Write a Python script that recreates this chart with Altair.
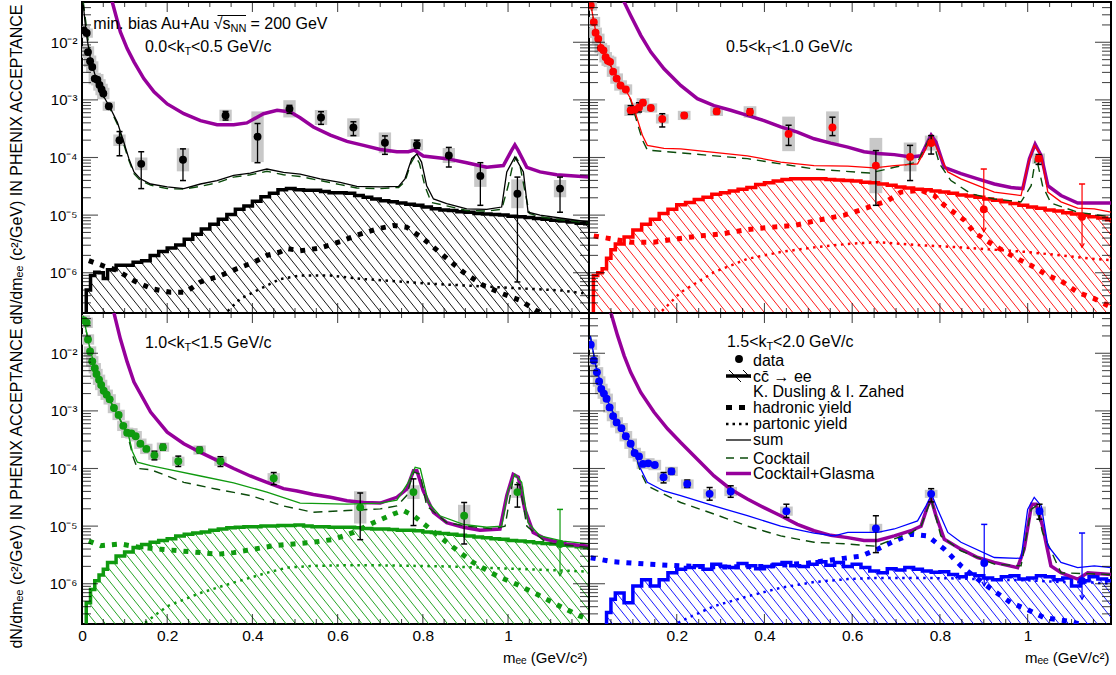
import math
from bisect import bisect_right
import altair as alt
import pandas as pd

FONT = "Liberation Sans"
YMIN, YMAX = 2e-7, 5e-2
XMAX = 1.19
H = 311
WL, WR = 507, 522
PURPLE = "#96009b"
CKT = "#0b4b0b"
SYSC = "#c8c8c8"
COL = {"p1": "#000000", "p2": "#ff0000", "p3": "#0f9a0f", "p4": "#0000ff"}

# ---------------- data (all y values are log10 of dN/dm_ee) ----------------
HX = [0.0, 0.01, 0.02, 0.03, 0.04, 0.05, 0.06,
      0.08, 0.10, 0.12, 0.14, 0.16, 0.18,
      0.20, 0.22, 0.24, 0.26, 0.28, 0.30, 0.32, 0.34, 0.36, 0.38,
      0.40, 0.42, 0.44, 0.46, 0.48, 0.50, 0.52, 0.54, 0.56, 0.58,
      0.60, 0.62, 0.64, 0.66, 0.68, 0.70, 0.72, 0.74, 0.76, 0.78,
      0.80, 0.82, 0.84, 0.86, 0.88, 0.90, 0.92, 0.94, 0.96, 0.98,
      1.00, 1.02, 1.04, 1.06, 1.08, 1.10, 1.12, 1.14, 1.16, 1.18]

# c cbar -> ee histograms
P1_HIST = [-7.5, -6.3, -6.05, -5.99, -6.0, -6.1, -5.95,
           -5.87, -5.87, -5.82, -5.79, -5.70, -5.63,
           -5.57, -5.52, -5.42, -5.33, -5.24, -5.16, -5.07, -4.99, -4.90, -4.84,
           -4.76, -4.68, -4.62, -4.56, -4.54, -4.56, -4.57, -4.57, -4.59, -4.61,
           -4.61, -4.62, -4.66, -4.69, -4.72, -4.75, -4.77, -4.79, -4.81, -4.83,
           -4.86, -4.89, -4.91, -4.92, -4.94, -4.95, -4.97, -4.98, -4.99, -5.00,
           -5.02, -5.03, -5.04, -5.06, -5.07, -5.09, -5.10, -5.12, -5.14, -5.15]
P2_HIST = [-7.5, -6.05, -6.0, -5.93, -5.75, -5.6, -5.5,
           -5.38, -5.26, -5.16, -5.07, -4.97, -4.90,
           -4.82, -4.78, -4.73, -4.69, -4.64, -4.61, -4.58, -4.55, -4.52, -4.47,
           -4.44, -4.41, -4.38, -4.37, -4.37, -4.37, -4.37, -4.38, -4.39, -4.40,
           -4.41, -4.43, -4.44, -4.46, -4.48, -4.51, -4.53, -4.55, -4.56, -4.58,
           -4.60, -4.62, -4.65, -4.67, -4.69, -4.72, -4.74, -4.77, -4.80, -4.83,
           -4.86, -4.88, -4.91, -4.93, -4.96, -4.98, -5.00, -5.03, -5.05, -5.08]
P3_HIST = [-7.5, -6.33, -6.1, -5.95, -5.85, -5.75, -5.63,
           -5.52, -5.45, -5.37, -5.32, -5.28, -5.25,
           -5.22, -5.17, -5.14, -5.12, -5.10, -5.07, -5.05, -5.03, -5.02, -5.01,
           -5.01, -5.00, -5.00, -4.99, -4.99, -4.98, -5.00, -5.01, -5.01, -5.02,
           -5.02, -5.02, -5.03, -5.04, -5.05, -5.05, -5.06, -5.07, -5.07, -5.08,
           -5.10, -5.11, -5.13, -5.14, -5.16, -5.17, -5.19, -5.20, -5.22, -5.23,
           -5.25, -5.26, -5.27, -5.29, -5.30, -5.31, -5.33, -5.34, -5.36, -5.37]
P4_HIST = [-7.5, -7.5, -7.5, -7.5, -6.5, -6.27, -6.16,
           -6.33, -6.04, -5.93, -6.04, -5.93, -5.81,
           -5.75, -5.72, -5.69, -5.75, -5.66, -5.70, -5.72, -5.65, -5.69, -5.74,
           -5.70, -5.66, -5.63, -5.69, -5.70, -5.66, -5.62, -5.68, -5.63, -5.70,
           -5.66, -5.72, -5.78, -5.81, -5.74, -5.76, -5.72, -5.75, -5.78, -5.80,
           -5.79, -5.84, -5.88, -5.83, -5.86, -5.90, -5.93, -5.88, -5.86, -5.92,
           -5.90, -5.86, -5.88, -5.93, -5.90, -6.04, -5.95, -5.88, -5.92, -5.95]

# hadronic yield (x, log10 y)
P1_HAD = [(0.016, -5.79), (0.05, -5.88), (0.083, -5.96), (0.122, -6.14), (0.165, -6.28), (0.208, -6.34),
          (0.243, -6.34), (0.278, -6.16), (0.325, -6.05), (0.364, -5.93), (0.403, -5.82), (0.434, -5.70),
          (0.465, -5.64), (0.481, -5.58), (0.512, -5.62), (0.559, -5.57), (0.606, -5.46), (0.645, -5.35),
          (0.692, -5.24), (0.731, -5.18), (0.762, -5.21), (0.801, -5.41), (0.848, -5.70), (0.895, -5.99),
          (0.942, -6.22), (0.989, -6.37), (1.028, -6.48), (1.067, -6.66), (1.11, -6.80)]
P2_HAD = [(0.011, -5.36), (0.095, -5.47), (0.148, -5.47), (0.202, -5.41), (0.255, -5.36), (0.308, -5.32),
          (0.361, -5.25), (0.415, -5.21), (0.468, -5.18), (0.521, -5.09), (0.582, -5.00), (0.627, -4.89),
          (0.681, -4.75), (0.711, -4.60), (0.757, -4.57), (0.787, -4.66), (0.810, -4.83), (0.856, -5.09),
          (0.878, -5.30), (0.924, -5.53), (0.970, -5.73), (1.008, -5.875), (1.046, -6.05), (1.076, -6.14),
          (1.114, -6.34), (1.152, -6.45), (1.19, -6.60)]
P3_HAD = [(0.016, -5.26), (0.044, -5.34), (0.09, -5.31), (0.137, -5.37), (0.184, -5.40), (0.231, -5.43),
          (0.278, -5.46), (0.317, -5.49), (0.356, -5.46), (0.403, -5.40), (0.45, -5.34), (0.497, -5.31),
          (0.543, -5.28), (0.59, -5.23), (0.637, -5.11), (0.684, -4.94), (0.731, -4.79), (0.754, -4.73),
          (0.778, -4.82), (0.809, -5.00), (0.856, -5.28), (0.918, -5.63), (0.973, -5.86), (1.02, -6.01),
          (1.067, -6.18), (1.114, -6.36), (1.168, -6.56), (1.19, -6.62)]
P4_HAD = [(0.004, -5.55), (0.057, -5.62), (0.133, -5.66), (0.209, -5.69), (0.30, -5.71), (0.40, -5.70),
          (0.50, -5.64), (0.58, -5.56), (0.62, -5.52), (0.658, -5.40), (0.696, -5.26), (0.734, -5.14),
          (0.772, -5.17), (0.810, -5.40), (0.848, -5.69), (0.886, -5.92), (0.924, -6.13), (0.962, -6.33),
          (1.0, -6.45), (1.038, -6.59), (1.091, -6.65), (1.15, -6.75)]

# partonic yield
P1_PAR = [(0.33, -6.75), (0.372, -6.45), (0.418, -6.28), (0.465, -6.11), (0.512, -6.05), (0.583, -6.05),
          (0.661, -6.11), (0.739, -6.15), (0.817, -6.19), (0.895, -6.22), (0.973, -6.25), (1.051, -6.28),
          (1.129, -6.31), (1.19, -6.37)]
P2_PAR = [(0.155, -6.75), (0.209, -6.34), (0.285, -5.99), (0.361, -5.76), (0.437, -5.64), (0.513, -5.56),
          (0.59, -5.50), (0.658, -5.47), (0.772, -5.53), (0.848, -5.56), (0.924, -5.60), (1.0, -5.64),
          (1.076, -5.70), (1.152, -5.76), (1.19, -5.78)]
P3_PAR = [(0.135, -6.75), (0.2, -6.39), (0.278, -6.16), (0.356, -5.98), (0.434, -5.81), (0.481, -5.72),
          (0.543, -5.69), (0.622, -5.68), (0.70, -5.68), (0.778, -5.69), (0.856, -5.70), (0.934, -5.72),
          (1.012, -5.74), (1.09, -5.76), (1.19, -5.79)]
P4_PAR = [(0.19, -6.75), (0.209, -6.65), (0.285, -6.39), (0.361, -6.22), (0.437, -6.07), (0.513, -5.97),
          (0.59, -5.92), (0.654, -5.90), (0.772, -5.90), (0.848, -5.91), (0.924, -5.93), (1.0, -5.94),
          (1.076, -5.97), (1.15, -5.98), (1.19, -6.00)]

# sum (Dusling & Zahed)
P1_SUM = [(0.003, -1.35), (0.01, -1.85), (0.02, -2.3), (0.03, -2.55), (0.044, -2.85), (0.067, -3.15),
          (0.083, -3.39), (0.098, -3.73), (0.11, -4.02), (0.122, -4.25), (0.137, -4.37), (0.161, -4.46),
          (0.2, -4.51), (0.239, -4.54), (0.278, -4.46), (0.317, -4.40), (0.356, -4.31), (0.395, -4.27),
          (0.434, -4.20), (0.473, -4.26), (0.512, -4.29), (0.559, -4.37), (0.606, -4.43), (0.645, -4.50),
          (0.70, -4.51), (0.743, -4.50), (0.758, -4.37), (0.774, -4.02), (0.786, -3.94), (0.797, -4.08),
          (0.809, -4.49), (0.825, -4.72), (0.856, -4.80), (0.903, -4.89), (0.95, -4.90), (0.985, -4.86),
          (0.997, -4.25), (1.016, -3.99), (1.036, -4.25), (1.047, -4.95), (1.075, -5.00), (1.122, -5.05),
          (1.19, -5.12)]
P2_SUM = [(0.003, -1.3), (0.015, -1.8), (0.03, -2.1), (0.045, -2.35), (0.06, -2.55), (0.072, -2.72),
          (0.085, -2.85), (0.095, -2.98), (0.11, -3.33), (0.122, -3.62), (0.133, -3.79), (0.171, -3.84),
          (0.209, -3.85), (0.285, -3.91), (0.361, -3.97), (0.437, -4.08), (0.513, -4.14), (0.590, -4.15),
          (0.650, -4.18), (0.696, -4.14), (0.749, -4.11), (0.768, -3.85), (0.781, -3.62), (0.795, -3.88),
          (0.818, -4.25), (0.848, -4.37), (0.924, -4.60), (0.985, -4.66), (1.0, -4.14), (1.015, -3.79),
          (1.031, -3.97), (1.046, -4.60), (1.076, -4.77), (1.114, -4.88), (1.152, -4.89), (1.19, -4.95)]
P3_SUM = [(0.003, -1.35), (0.015, -1.8), (0.03, -2.25), (0.05, -2.6), (0.075, -2.95), (0.1, -3.3),
          (0.11, -3.45), (0.118, -3.7), (0.13, -3.89), (0.161, -3.95), (0.2, -4.01), (0.278, -4.13),
          (0.356, -4.25), (0.434, -4.41), (0.512, -4.60), (0.622, -4.62), (0.70, -4.60), (0.739, -4.55),
          (0.766, -4.24), (0.782, -3.98), (0.794, -4.00), (0.813, -4.59), (0.84, -4.82), (0.895, -4.97),
          (0.95, -5.02), (0.985, -5.00), (1.0, -4.39), (1.016, -4.10), (1.032, -4.24), (1.047, -4.94),
          (1.075, -5.17), (1.129, -5.26), (1.19, -5.31)]
P4_SUM = [(0.003, -1.7), (0.015, -2.2), (0.03, -2.62), (0.05, -2.95), (0.07, -3.28), (0.09, -3.5),
          (0.105, -3.72), (0.114, -3.95), (0.133, -4.24), (0.171, -4.39), (0.209, -4.47), (0.285, -4.65),
          (0.361, -4.82), (0.437, -5.00), (0.513, -5.12), (0.559, -5.17), (0.590, -5.11), (0.658, -5.11),
          (0.696, -5.05), (0.749, -4.91), (0.768, -4.65), (0.781, -4.45), (0.795, -4.71), (0.818, -5.11),
          (0.848, -5.28), (0.924, -5.545), (0.985, -5.56), (1.0, -4.71), (1.015, -4.50), (1.031, -4.65),
          (1.046, -5.34), (1.076, -5.63), (1.114, -5.72), (1.152, -5.69), (1.19, -5.72)]

# hadronic cocktail
P1_CKT = [(0.003, -1.3), (0.02, -2.3), (0.045, -2.87), (0.067, -3.17), (0.083, -3.42), (0.098, -3.77),
          (0.11, -4.05), (0.122, -4.28), (0.137, -4.40), (0.161, -4.48), (0.2, -4.54), (0.239, -4.55),
          (0.278, -4.50), (0.317, -4.44), (0.356, -4.34), (0.395, -4.30), (0.434, -4.24), (0.473, -4.30),
          (0.512, -4.33), (0.559, -4.40), (0.606, -4.47), (0.645, -4.53), (0.70, -4.54), (0.743, -4.52),
          (0.758, -4.42), (0.772, -4.10), (0.782, -3.97), (0.792, -4.10), (0.805, -4.50), (0.82, -4.78),
          (0.856, -4.84), (0.903, -4.92), (0.95, -4.93), (0.985, -4.90), (1.0, -4.50), (1.012, -4.10),
          (1.019, -4.00), (1.027, -4.10), (1.04, -4.60), (1.05, -4.97), (1.075, -5.03), (1.122, -5.08),
          (1.19, -5.14)]
P2_CKT = [(0.003, -1.3), (0.015, -1.8), (0.03, -2.1), (0.045, -2.35), (0.06, -2.55), (0.072, -2.72),
          (0.085, -2.87), (0.095, -3.0), (0.11, -3.4), (0.122, -3.7), (0.133, -3.87), (0.209, -3.92),
          (0.361, -4.02), (0.513, -4.20), (0.640, -4.27), (0.696, -4.17), (0.749, -4.08), (0.772, -3.73),
          (0.780, -3.61), (0.799, -4.11), (0.825, -4.40), (0.871, -4.63), (0.924, -4.72), (0.985, -4.77),
          (1.008, -4.49), (1.019, -3.97), (1.034, -4.49), (1.053, -4.79), (1.114, -4.95), (1.19, -5.03)]
P3_CKT = [(0.003, -1.35), (0.015, -1.8), (0.03, -2.25), (0.05, -2.6), (0.075, -2.95), (0.1, -3.3),
          (0.11, -3.5), (0.12, -3.8), (0.13, -4.0), (0.161, -4.02), (0.239, -4.24), (0.317, -4.36),
          (0.395, -4.47), (0.473, -4.65), (0.543, -4.76), (0.622, -4.73), (0.70, -4.70), (0.739, -4.65),
          (0.762, -4.47), (0.778, -4.06), (0.794, -4.10), (0.809, -4.65), (0.856, -4.94), (0.903, -5.00),
          (0.965, -5.05), (0.993, -5.00), (1.012, -4.18), (1.028, -4.30), (1.044, -5.00), (1.09, -5.29),
          (1.19, -5.37)]
P4_CKT = [(0.003, -1.7), (0.015, -2.2), (0.03, -2.62), (0.05, -2.95), (0.07, -3.28), (0.09, -3.5),
          (0.105, -3.75), (0.118, -4.07), (0.133, -4.30), (0.209, -4.59), (0.285, -4.79), (0.361, -5.00),
          (0.437, -5.17), (0.513, -5.28), (0.59, -5.31), (0.654, -5.35), (0.696, -5.22), (0.734, -5.12),
          (0.757, -5.00), (0.78, -4.53), (0.802, -5.17), (0.848, -5.43), (0.924, -5.66), (0.985, -5.69),
          (1.008, -4.71), (1.019, -4.65), (1.034, -5.11), (1.076, -5.81), (1.19, -5.84)]

# cocktail + glasma
P1_GLA = [(0.06, -1.0), (0.071, -1.30), (0.09, -1.82), (0.106, -2.11), (0.122, -2.34), (0.145, -2.63),
          (0.169, -2.86), (0.2, -3.07), (0.239, -3.24), (0.278, -3.36), (0.317, -3.43), (0.356, -3.43),
          (0.387, -3.40), (0.426, -3.24), (0.458, -3.18), (0.489, -3.21), (0.512, -3.31), (0.543, -3.47),
          (0.583, -3.61), (0.622, -3.72), (0.661, -3.79), (0.70, -3.86), (0.739, -3.90), (0.766, -3.90),
          (0.78, -3.87), (0.801, -3.975), (0.856, -4.02), (0.903, -4.09), (0.95, -4.17), (0.989, -4.14),
          (1.008, -3.88), (1.016, -3.78), (1.024, -3.88), (1.044, -4.17), (1.075, -4.25), (1.114, -4.30),
          (1.19, -4.34)]
P2_GLA = [(0.07, -1.0), (0.080, -1.30), (0.095, -1.535), (0.118, -1.88), (0.141, -2.17), (0.171, -2.46),
          (0.209, -2.75), (0.247, -2.98), (0.285, -3.10), (0.323, -3.18), (0.361, -3.27), (0.399, -3.36),
          (0.437, -3.47), (0.475, -3.56), (0.513, -3.675), (0.551, -3.75), (0.590, -3.82), (0.627, -3.90),
          (0.658, -3.93), (0.696, -3.95), (0.734, -3.99), (0.757, -3.97), (0.772, -3.73), (0.780, -3.61),
          (0.791, -3.73), (0.810, -4.17), (0.848, -4.28), (0.886, -4.37), (0.924, -4.46), (0.962, -4.52),
          (0.989, -4.54), (1.004, -4.02), (1.017, -3.77), (1.031, -3.97), (1.046, -4.49), (1.076, -4.66),
          (1.114, -4.79), (1.19, -4.79)]
P3_GLA = [(0.065, -1.0), (0.075, -1.30), (0.090, -1.75), (0.106, -2.15), (0.122, -2.50), (0.161, -3.02),
          (0.20, -3.37), (0.239, -3.57), (0.278, -3.72), (0.317, -3.86), (0.356, -4.00), (0.395, -4.13),
          (0.434, -4.24), (0.473, -4.35), (0.505, -4.39), (0.543, -4.45), (0.583, -4.50), (0.622, -4.56),
          (0.661, -4.59), (0.70, -4.60), (0.739, -4.50), (0.762, -4.36), (0.778, -4.04), (0.786, -4.04),
          (0.801, -4.39), (0.825, -4.76), (0.856, -4.94), (0.895, -5.02), (0.934, -5.07), (0.981, -5.05),
          (0.997, -4.47), (1.012, -4.10), (1.024, -4.15), (1.039, -4.70), (1.059, -5.11), (1.09, -5.23),
          (1.137, -5.31), (1.19, -5.35)]
P4_GLA = [(0.045, -1.0), (0.05, -1.30), (0.065, -1.69), (0.080, -2.04), (0.095, -2.33), (0.118, -2.68),
          (0.148, -3.02), (0.179, -3.31), (0.209, -3.55), (0.247, -3.84), (0.285, -4.13), (0.323, -4.36),
          (0.361, -4.53), (0.399, -4.68), (0.437, -4.82), (0.475, -4.97), (0.513, -5.08), (0.551, -5.16),
          (0.590, -5.20), (0.627, -5.25), (0.658, -5.25), (0.696, -5.17), (0.734, -5.08), (0.757, -5.00),
          (0.772, -4.65), (0.780, -4.53), (0.791, -4.82), (0.810, -5.23), (0.848, -5.40), (0.886, -5.545),
          (0.924, -5.63), (0.977, -5.72), (0.992, -5.40), (1.009, -4.62), (1.019, -4.62), (1.034, -5.00),
          (1.053, -5.69), (1.076, -5.81), (1.114, -5.92), (1.137, -5.81), (1.19, -5.84)]

# data points: x, log10 y, stat err down/up (decades), syst half-height (decades)
P1_X = [0.0045, 0.011, 0.014, 0.019, 0.024, 0.030, 0.036, 0.041, 0.046, 0.050, 0.063, 0.088, 0.139,
        0.237, 0.337, 0.412, 0.487, 0.561, 0.637, 0.711, 0.786, 0.861, 0.935, 1.022, 1.122]
P1_Y = [-1.795, -1.84, -2.17, -2.33, -2.43, -2.63, -2.65, -2.74, -2.82, -2.89, -3.11, -3.70, -4.11,
        -4.04, -3.27, -3.64, -3.155, -3.305, -3.48, -3.745, -3.78, -3.965, -4.32, -4.63, -4.54]
P1_EDN = [0.03] * 10 + [0.04, 0.27, 0.43, 0.36, 0.08, 0.45, 0.08, 0.12, 0.14, 0.20, 0.06, 0.20, 0.51, 1.53, 0.41]
P1_EUP = [0.03] * 10 + [0.04, 0.15, 0.21, 0.19, 0.07, 0.23, 0.06, 0.10, 0.10, 0.12, 0.08, 0.14, 0.23, 0.29, 0.20]
P1_SYS = [0.08, 0.08] + [0.10] * 8 + [0.08, 0.10, 0.11, 0.20, 0.10, 0.44, 0.15, 0.13, 0.16, 0.18, 0.10, 0.13, 0.19, 0.25, 0.15]

P2_X = [0.004, 0.011, 0.015, 0.021, 0.027, 0.033, 0.038, 0.043, 0.048, 0.055, 0.063, 0.072, 0.084,
        0.095, 0.104, 0.114, 0.123, 0.141, 0.167, 0.217, 0.291, 0.367, 0.455, 0.555, 0.654, 0.732,
        0.780, 1.025]
P2_Y = [-1.36, -1.65, -1.835, -1.94, -2.10, -2.14, -2.26, -2.32, -2.34, -2.51, -2.63, -2.75, -2.82,
        -3.18, -3.17, -3.13, -3.05, -3.14, -3.33, -3.27, -3.20, -3.21, -3.59, -3.48, -4.14, -3.99,
        -3.75, -4.02]
P2_EDN = [0.03] * 13 + [0.07, 0.05, 0.08, 0.04, 0.04, 0.14, 0.04, 0.04, 0.05, 0.20, 0.14, 0.69, 0.41, 0.19, 0.10]
P2_EUP = [0.03] * 13 + [0.08, 0.05, 0.08, 0.04, 0.04, 0.09, 0.04, 0.04, 0.05, 0.15, 0.18, 0.26, 0.20, 0.13, 0.07]
P2_SYS = [0.09] * 13 + [0.10, 0.08, 0.08, 0.08, 0.08, 0.08, 0.08, 0.08, 0.10, 0.30, 0.28, 0.48, 0.25, 0.13, 0.09]

P3_X = [0.0045, 0.011, 0.014, 0.019, 0.024, 0.030, 0.034, 0.040, 0.045, 0.051, 0.058, 0.065, 0.075,
        0.086, 0.097, 0.106, 0.116, 0.126, 0.137, 0.151, 0.170, 0.19, 0.226, 0.276, 0.325, 0.45,
        0.653, 0.778, 0.897, 1.022]
P3_Y = [-1.43, -1.47, -1.76, -1.97, -2.14, -2.26, -2.36, -2.46, -2.55, -2.65, -2.72, -2.80, -2.95,
        -3.07, -3.26, -3.38, -3.39, -3.44, -3.57, -3.66, -3.77, -3.63, -3.875, -3.68, -3.875, -4.17,
        -4.675, -4.41, -4.82, -4.41]
P3_EDN = [0.03] * 20 + [0.08, 0.05, 0.09, 0.05, 0.09, 0.11, 0.56, 0.58, 0.49, 0.26]
P3_EUP = [0.03] * 20 + [0.07, 0.05, 0.09, 0.05, 0.08, 0.10, 0.25, 0.23, 0.23, 0.13]
P3_SYS = [0.09] * 20 + [0.08, 0.08, 0.08, 0.08, 0.08, 0.09, 0.28, 0.12, 0.19, 0.10]

P4_X = [0.004, 0.011, 0.018, 0.023, 0.028, 0.034, 0.040, 0.047, 0.055, 0.063, 0.074, 0.084, 0.095,
        0.104, 0.114, 0.123, 0.135, 0.150, 0.170, 0.188, 0.224, 0.275, 0.323, 0.450, 0.654, 0.780, 1.027]
P4_Y = [-1.85, -2.125, -2.33, -2.49, -2.62, -2.70, -2.79, -2.94, -3.09, -3.20, -3.30, -3.44, -3.57,
        -3.73, -3.79, -3.92, -3.91, -3.94, -4.15, -4.05, -4.27, -4.44, -4.40, -4.74, -5.04, -4.44, -4.74]
P4_EDN = [0.03] * 18 + [0.10, 0.05, 0.06, 0.11, 0.10, 0.11, 0.42, 0.14, 0.14]
P4_EUP = [0.03] * 18 + [0.08, 0.05, 0.07, 0.11, 0.10, 0.12, 0.22, 0.09, 0.12]
P4_SYS = [0.09] * 18 + [0.08, 0.08, 0.08, 0.08, 0.08, 0.08, 0.08, 0.07, 0.08]

# upper-limit style points: x, log10 y, top of bar, arrow tip
P1_UL = []
P2_UL = [(0.900, -4.90, -4.20, -5.29), (1.124, -5.03, -4.46, -5.56)]
P3_UL = [(1.122, -5.31, -4.71, -5.86)]
P4_UL = [(0.901, -5.64, -4.97, -6.04), (1.124, -5.95, -5.12, -6.27)]

Y_LABEL_VALUES = [1e-6, 1e-5, 1e-4, 1e-3, 1e-2]
X_LABEL_VALUES = [0, 0.2, 0.4, 0.6, 0.8, 1.0]

# ---------------- helpers ----------------
LY0, LY1 = math.log10(YMIN), math.log10(YMAX)
DUMMY = pd.DataFrame({"k": [0]})


def curve_df(pairs):
    return pd.DataFrame({"x": [p[0] for p in pairs], "y": [10 ** p[1] for p in pairs]})


def hist_df(hy):
    xs = list(HX) + [XMAX]
    ys = list(hy) + [hy[-1]]
    return pd.DataFrame({"x": xs, "y": [10 ** v for v in ys]})


def hatch_df(hy, W):
    hpx = [(v - LY0) / (LY1 - LY0) * H for v in hy]

    def ch(px):
        i = bisect_right(HX, px / W * XMAX) - 1
        return hpx[max(0, min(i, len(hpx) - 1))]

    slope, gap, step = 1.25, 9.5, 0.5
    segs = []
    xb = gap / 2
    while xb < W + H / slope:
        t, start, prev = 0.0, None, None
        while True:
            px, h = xb - t, slope * t
            if px < 0 or h > H:
                break
            inside = px <= W and h <= ch(px)
            if inside and start is None:
                start = (px, h)
            elif not inside and start is not None:
                segs.append((start, prev))
                start = None
            prev = (px, h)
            t += step
        if start is not None:
            segs.append((start, prev))
        xb += gap
    rows = []
    for (p0, h0), (p1, h1) in segs:
        if h1 - h0 < 0.5:
            continue
        rows.append({"x": p0 / W * XMAX, "y": 10 ** (LY0 + h0 / H * (LY1 - LY0)),
                     "x2": p1 / W * XMAX, "y2": 10 ** (LY0 + h1 / H * (LY1 - LY0))})
    return pd.DataFrame(rows)


def points_df(X_, Y_, EDN, EUP, SYS):
    return pd.DataFrame({
        "x": X_, "y": [10 ** v for v in Y_],
        "el": [10 ** (v - d) for v, d in zip(Y_, EDN)],
        "eh": [10 ** (v + u) for v, u in zip(Y_, EUP)],
        "sl": [10 ** (v - s) for v, s in zip(Y_, SYS)],
        "sh": [10 ** (v + s) for v, s in zip(Y_, SYS)],
        "xl": [x - 0.0145 for x in X_], "xr": [x + 0.0145 for x in X_],
        "cl": [x - 0.007 for x in X_], "cr": [x + 0.007 for x in X_],
    })


def ul_df(ul):
    return pd.DataFrame({
        "x": [u[0] for u in ul], "y": [10 ** u[1] for u in ul],
        "top": [10 ** u[2] for u in ul], "bot": [10 ** u[3] for u in ul],
        "cl": [u[0] - 0.007 for u in ul], "cr": [u[0] + 0.007 for u in ul],
    })


YT = []
for n in range(-7, -1):
    for k in range(1, 10):
        v = k * 10.0 ** n
        if YMIN * 0.999 <= v <= YMAX * 1.001:
            YT.append((v, 32 if k == 1 else 18))
YTICKS = pd.DataFrame({"v": [a for a, b in YT], "sz": [b for a, b in YT]})
XT = []
for i in range(1, 24):
    XT.append((round(i * 0.05, 2), 20 if i % 4 == 0 else 10))
XTICKS = pd.DataFrame({"v": [a for a, b in XT], "sz": [b for a, b in XT]})


def T(s, x, y, size=16, align="left", dy=0, color="black"):
    return alt.Chart(DUMMY).mark_text(text=s, align=align, baseline="middle", fontSize=size,
                                      font=FONT, color=color, dy=dy).encode(
        x=alt.value(x), y=alt.value(y))


def R(x1, x2, y1, y2, color="black", w=1.0, dash=None):
    kw = dict(color=color, strokeWidth=w)
    if dash:
        kw["strokeDash"] = dash
    return alt.Chart(DUMMY).mark_rule(**kw).encode(
        x=alt.value(x1), x2=alt.value(x2), y=alt.value(y1), y2=alt.value(y2))


def kt_label(lo, hi, ax, y):
    return [T(f"{lo}<k", ax, y, align="right"), T("T", ax, y, size=11, dy=5),
            T(f"<{hi} GeV/c", ax + 6.5, y)]


def panel(color, W, hist, had, par, ckt, sm, gla, pts, ul, show_x, show_y, x_vals, title_y, extras):
    xs = alt.Scale(domain=[0, XMAX], nice=False, zero=False)
    ys = alt.Scale(type="log", domain=[YMIN, YMAX], nice=False)
    if show_x:
        xax = alt.Axis(values=x_vals, format=".1~f", ticks=False, tickSize=0, domain=False, grid=False,
                       labelPadding=4, labelFontSize=15.5, labelFlush=False, labelOverlap=False,
                       title="mₑₑ (GeV/c²)", titleFontSize=15, titleFontWeight="normal",
                       titleX=W - 2, titleY=33, titleAlign="right", titleBaseline="middle", titleAngle=0)
    else:
        xax = None
    if show_y:
        yax = alt.Axis(values=Y_LABEL_VALUES,
                       labelExpr="'10' + ['⁻⁶','⁻⁵','⁻⁴','⁻³','⁻²'][round(log(datum.value)/LN10)+6]",
                       ticks=False, tickSize=0, domain=False, grid=False, labelPadding=5,
                       labelFontSize=15, labelOverlap=False, labelFlush=False,
                       title="dN/dmₑₑ (c²/GeV) IN PHENIX ACCEPTANCE", titleFontSize=16,
                       titleFontWeight="normal", titleX=-66, titleY=title_y, titleAngle=270,
                       titleAlign="center", titleBaseline="middle")
    else:
        yax = None

    def X(f):
        return alt.X(f, type="quantitative", scale=xs, axis=xax)

    def Y(f):
        return alt.Y(f, type="quantitative", scale=ys, axis=yax)

    layers = []
    layers.append(alt.Chart(hatch_df(hist, W)).mark_rule(color=color, strokeWidth=0.9, clip=True).encode(
        x=X("x"), y=Y("y"), x2="x2", y2="y2"))
    pdf = points_df(*pts)
    layers.append(alt.Chart(pdf).mark_rect(color=SYSC, clip=True).encode(
        x=X("xl"), x2="xr", y=Y("sl"), y2="sh"))
    layers.append(alt.Chart(hist_df(hist)).mark_line(color=color, strokeWidth=3.5, interpolate="step-after",
                                                     clip=True).encode(x=X("x"), y=Y("y")))
    layers.append(alt.Chart(curve_df(had)).mark_line(color=color, strokeWidth=5, strokeDash=[5, 7],
                                                     clip=True).encode(x=X("x"), y=Y("y")))
    layers.append(alt.Chart(curve_df(par)).mark_line(color=color, strokeWidth=2.5, strokeDash=[2.5, 4.5],
                                                     clip=True).encode(x=X("x"), y=Y("y")))
    layers.append(alt.Chart(curve_df(gla)).mark_line(color=PURPLE, strokeWidth=3.5,
                                                     clip=True).encode(x=X("x"), y=Y("y")))
    layers.append(alt.Chart(curve_df(ckt)).mark_line(color=CKT, strokeWidth=1.4, strokeDash=[9, 6],
                                                     clip=True).encode(x=X("x"), y=Y("y")))
    layers.append(alt.Chart(curve_df(sm)).mark_line(color=color, strokeWidth=1.3,
                                                    clip=True).encode(x=X("x"), y=Y("y")))
    # stat error bars
    layers.append(alt.Chart(pdf).mark_rule(color="black", strokeWidth=1.3, clip=True).encode(
        x=X("x"), y=Y("el"), y2="eh"))
    for f in ("el", "eh"):
        layers.append(alt.Chart(pdf).mark_rule(color="black", strokeWidth=1.5, clip=True).encode(
            x=X("cl"), x2="cr", y=Y(f)))
    layers.append(alt.Chart(pdf).mark_circle(color=color, size=62, opacity=1, clip=True).encode(
        x=X("x"), y=Y("y")))
    if ul:
        udf = ul_df(ul)
        layers.append(alt.Chart(udf).mark_rule(color=color, strokeWidth=1.2, clip=True).encode(
            x=X("x"), y=Y("bot"), y2="top"))
        layers.append(alt.Chart(udf).mark_rule(color=color, strokeWidth=1.5, clip=True).encode(
            x=X("cl"), x2="cr", y=Y("top")))
        layers.append(alt.Chart(udf).mark_point(shape="M -0.55 -1 L 0 0 L 0.55 -1", filled=False,
                                                color=color, strokeWidth=1.2, size=70, opacity=1,
                                                clip=True).encode(x=X("x"), y=Y("bot")))
        layers.append(alt.Chart(udf).mark_circle(color=color, size=62, opacity=1, clip=True).encode(
            x=X("x"), y=Y("y")))
    # inward ticks on four sides
    for xv in (0, W):
        layers.append(alt.Chart(YTICKS).mark_tick(orient="horizontal", color="black", thickness=1.1,
                                                  clip=True).encode(
            y=Y("v"), x=alt.value(xv), size=alt.Size("sz:Q", scale=None)))
    for yv in (0, H):
        layers.append(alt.Chart(XTICKS).mark_tick(orient="vertical", color="black", thickness=1.1,
                                                  clip=True).encode(
            x=X("v"), y=alt.value(yv), size=alt.Size("sz:Q", scale=None)))
    layers.extend(extras)
    return alt.layer(*layers).properties(width=W, height=H)


# ---------------- annotations ----------------
p1_txt = [T("min. bias Au+Au  √s", 148.6, 21.5, align="right"), T("NN", 148.6, 21.5, size=11, dy=5),
          T("= 200 GeV", 168.5, 21.5), R(135.5, 164, 13.5, 13.5, w=1.0)] + kt_label("0.0", "0.5", 102.5, 44.5)
p2_txt = kt_label("0.5", "1.0", 176.5, 45)
p3_txt = kt_label("1.0", "1.5", 102.5, 30)
LX0, LX1, LTX = 137, 162, 164
p4_txt = kt_label("1.5", "2.0", 177.5, 29) + [
    alt.Chart(DUMMY).mark_circle(color="black", size=62, opacity=1).encode(x=alt.value(150), y=alt.value(46)),
    T("data", LTX, 47.5),
    R(LX0, LX1, 63, 63, w=3.5), R(140, 152, 57, 69, w=1.0), R(154, 162, 57, 65, w=1.0),
    T("cc\u0304 \u2192 ee", LTX, 64),
    T("K. Dusling & I. Zahed", LTX, 79),
    R(LX0, LX1, 94.5, 94.5, w=5, dash=[6, 7]), T("hadronic yield", LTX, 94.5),
    R(LX0, LX1, 111, 111, w=2.5, dash=[2.5, 4]), T("partonic yield", LTX, 111),
    R(LX0, LX1, 127, 127, w=1.3), T("sum", LTX, 127),
    R(LX0, LX1, 145, 145, color=CKT, w=1.4, dash=[8, 6]), T("Cocktail", LTX, 145.5),
    R(LX0, LX1, 160.5, 160.5, color=PURPLE, w=3.5), T("Cocktail+Glasma", LTX, 161),
]

p1 = panel(COL["p1"], WL, P1_HIST, P1_HAD, P1_PAR, P1_CKT, P1_SUM, P1_GLA,
           (P1_X, P1_Y, P1_EDN, P1_EUP, P1_SYS), P1_UL, False, True, None, 162, p1_txt)
p2 = panel(COL["p2"], WR, P2_HIST, P2_HAD, P2_PAR, P2_CKT, P2_SUM, P2_GLA,
           (P2_X, P2_Y, P2_EDN, P2_EUP, P2_SYS), P2_UL, False, False, None, 0, p2_txt)
p3 = panel(COL["p3"], WL, P3_HIST, P3_HAD, P3_PAR, P3_CKT, P3_SUM, P3_GLA,
           (P3_X, P3_Y, P3_EDN, P3_EUP, P3_SYS), P3_UL, True, True, X_LABEL_VALUES, 175, p3_txt)
p4 = panel(COL["p4"], WR, P4_HIST, P4_HAD, P4_PAR, P4_CKT, P4_SUM, P4_GLA,
           (P4_X, P4_Y, P4_EDN, P4_EUP, P4_SYS), P4_UL, True, False, X_LABEL_VALUES[1:], 0, p4_txt)

chart = alt.concat(
    p1, p2, p3, p4, columns=2, spacing=0, bounds="flush",
).properties(
    padding={"left": 6, "top": 1, "right": 2, "bottom": 2}, background="white"
).configure_view(stroke="black", strokeWidth=2).configure_axis(
    labelFont=FONT, titleFont=FONT, labelColor="black", titleColor="black"
)

chart.save("out.html", embed_options={"renderer": "svg", "actions": False})
